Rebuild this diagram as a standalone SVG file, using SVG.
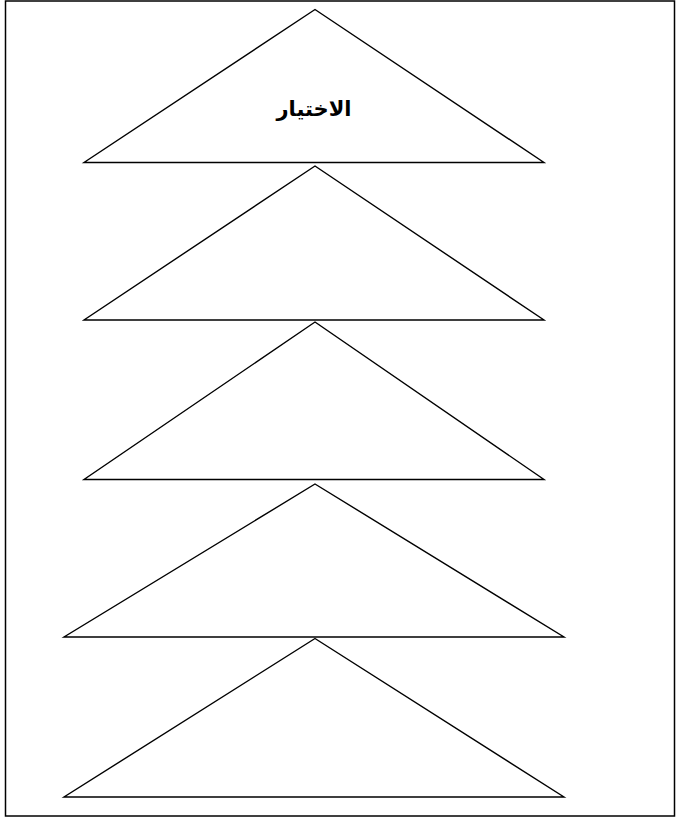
<svg xmlns="http://www.w3.org/2000/svg" width="676" height="821" viewBox="0 0 676 821">
<style>
.tri{fill:#fff;stroke:#000;stroke-width:1.4;stroke-linejoin:miter}
.lbl{font-family:"Liberation Sans","DejaVu Sans",sans-serif;font-weight:bold;font-size:21px;fill:#000}
</style>
<rect x="0" y="0" width="676" height="821" fill="#fff"/>
<rect id="frame" x="5.5" y="1" width="669" height="815" fill="none" stroke="#000" stroke-width="1.5"/>
<g id="connectors"></g>
<g id="t5"><polygon class="tri" points="315,638.5 564,797 64,797"/></g>
<g id="t4"><polygon class="tri" points="315,484 564,637 64,637"/></g>
<g id="t3"><polygon class="tri" points="315,322 544,479.5 84,479.5"/></g>
<g id="t2"><polygon class="tri" points="315,166 544,320 84,320"/></g>
<g id="t1"><polygon class="tri" points="315,9.5 544,162.5 84,162.5"/>
<text class="lbl" x="314" y="116" text-anchor="middle" direction="rtl">الاختيار</text></g>
</svg>
